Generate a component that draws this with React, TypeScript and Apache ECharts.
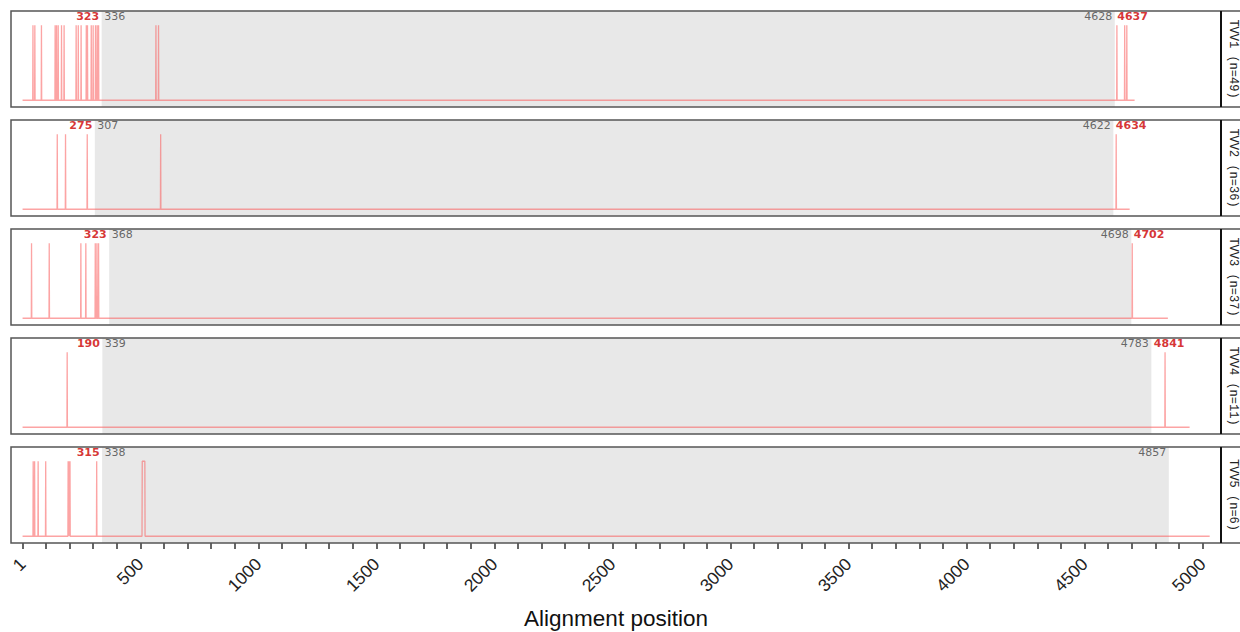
import React, { useEffect, useRef } from "react";
import * as echarts from "echarts";

// ---- data ----
const groups = ["TVV1 (n=49)", "TVV2 (n=36)", "TVV3 (n=37)", "TVV4 (n=11)", "TVV5 (n=6)"];
// variable sites: [start, end] runs of positions with value 1
const sites1 = [[45, 45], [53, 53], [81, 81], [139, 139], [145, 145], [152, 152], [166, 166], [177, 177], [228, 228], [237, 237], [249, 249], [271, 271], [276, 276], [292, 292], [300, 300], [310, 310], [317, 317], [323, 323], [566, 566], [577, 577], [4637, 4637], [4670, 4670], [4679, 4679]];
const sites2 = [[148, 148], [183, 183], [275, 275], [586, 586], [4634, 4634]];
const sites3 = [[39, 39], [114, 114], [248, 248], [269, 269], [309, 309], [316, 316], [323, 323], [4702, 4702]];
const sites4 = [[190, 190], [4841, 4841]];
const sites5 = [[46, 46], [52, 52], [67, 67], [99, 99], [194, 194], [198, 198], [202, 202], [315, 315], [508, 519]];
const sites = [sites1, sites2, sites3, sites4, sites5];
const alignStart = [1, 1, 1, 1, 1];
const alignEnd = [4712, 4691, 4853, 4945, 5030];
// conserved region (grey) and flanking variable sites (red)
const conservedStart = [336, 307, 368, 339, 338];
const conservedEnd = [4628, 4622, 4698, 4783, 4857];
const leftVariable = ["323", "275", "323", "190", "315"];
const rightVariable = ["4637", "4634", "4702", "4841", ""];
const tickValues = [1, 100, 200, 300, 400, 500, 600, 700, 800, 900, 1000, 1100, 1200, 1300, 1400, 1500, 1600, 1700, 1800, 1900, 2000, 2100, 2200, 2300, 2400, 2500, 2600, 2700, 2800, 2900, 3000, 3100, 3200, 3300, 3400, 3500, 3600, 3700, 3800, 3900, 4000, 4100, 4200, 4300, 4400, 4500, 4600, 4700, 4800, 4900, 5000];
const labelValues = [1, 500, 1000, 1500, 2000, 2500, 3000, 3500, 4000, 4500, 5000];

const X_MIN = -48;
const X_MAX = 5078;
const Y_MIN = -0.09;
const Y_MAX = 1.19;
const LABEL_Y = 1.12;

const PANEL_LEFT = 11;
const PANEL_RIGHT = 1221;
const PANEL_H = 96;
const panelTop = (i: number) => 11 + i * 109;

function buildLine(i: number) {
  const pts: number[][] = [[alignStart[i], 0]];
  for (const [s, e] of sites[i]) {
    pts.push([s - 1, 0], [s, 1], [e, 1], [e + 1, 0]);
  }
  pts.push([alignEnd[i], 0]);
  return pts;
}

export default function App() {
  const ref = useRef<HTMLDivElement>(null);
  useEffect(() => {
    if (!ref.current) return;
    const chart = echarts.init(ref.current, undefined, { renderer: "svg" });
    const n = groups.length;
    const grids: any[] = [];
    const xAxes: any[] = [];
    const yAxes: any[] = [];
    const series: any[] = [];
    const graphics: any[] = [];
    for (let i = 0; i < n; i++) {
      const last = i === n - 1;
      grids.push({
        left: PANEL_LEFT,
        width: PANEL_RIGHT - PANEL_LEFT,
        top: panelTop(i),
        height: PANEL_H,
        show: false,
        containLabel: false,
        outerBoundsMode: "none",
      });
      xAxes.push({
        type: "value",
        gridIndex: i,
        min: X_MIN,
        max: X_MAX,
        show: true,
        position: "bottom",
        splitLine: { show: false },
        axisLine: { show: false, onZero: false },
        axisTick: last
          ? { show: true, inside: false, customValues: tickValues, length: 6, lineStyle: { color: "#333", width: 1.5 } }
          : { show: false },
        axisLabel: last
          ? {
              show: true,
              customValues: labelValues,
              formatter: (v: number) => String(v),
              rotate: 45,
              margin: 18,
              fontSize: 17.5,
              color: "#222",
              fontFamily: "Liberation Sans, Arial, sans-serif",
            }
          : { show: false },
        name: last ? "Alignment position" : "",
        nameLocation: "middle",
        nameGap: 64,
        nameMoveOverlap: false,
        nameTextStyle: { fontSize: 22.5, color: "#111", fontFamily: "Liberation Sans, Arial, sans-serif" },
      });
      yAxes.push({
        type: "value",
        gridIndex: i,
        min: Y_MIN,
        max: Y_MAX,
        show: false,
        splitLine: { show: false },
      });
      // grey conserved region
      series.push({
        type: "line",
        xAxisIndex: i,
        yAxisIndex: i,
        data: [],
        z: 1,
        markArea: {
          silent: true,
          itemStyle: { color: "#e8e8e8" },
          data: [[{ xAxis: conservedStart[i] }, { xAxis: conservedEnd[i] }]],
        },
      });
      // variability line
      series.push({
        type: "line",
        xAxisIndex: i,
        yAxisIndex: i,
        data: buildLine(i),
        showSymbol: false,
        symbol: "none",
        z: 3,
        lineStyle: { color: "rgba(250,90,90,0.55)", width: 1.3 },
      });
      // labels
      const baseLabel = {
        show: true,
        position: "inside",
        verticalAlign: "middle",
        fontSize: 11,
        fontFamily: "DejaVu Sans, sans-serif",
      };
      const labelData: any[] = [
        {
          value: [conservedStart[i], LABEL_Y],
          label: { ...baseLabel, formatter: String(conservedStart[i]), align: "left", offset: [2.5, 0], color: "#444" },
        },
        {
          value: [conservedStart[i], LABEL_Y],
          label: { ...baseLabel, formatter: leftVariable[i], align: "right", offset: [-2.5, 0], color: "#cc0000", fontWeight: "bold" },
        },
        {
          value: [conservedEnd[i], LABEL_Y],
          label: { ...baseLabel, formatter: String(conservedEnd[i]), align: "right", offset: [-2.5, 0], color: "#444" },
        },
      ];
      if (rightVariable[i]) {
        labelData.push({
          value: [conservedEnd[i], LABEL_Y],
          label: { ...baseLabel, formatter: rightVariable[i], align: "left", offset: [2.5, 0], color: "#cc0000", fontWeight: "bold" },
        });
      }
      series.push({
        type: "scatter",
        xAxisIndex: i,
        yAxisIndex: i,
        symbolSize: 1,
        itemStyle: { color: "rgba(0,0,0,0)" },
        z: 5,
        silent: true,
        data: labelData,
      });
      // panel + strip borders
      const top = panelTop(i);
      graphics.push({
        type: "rect",
        z: 100,
        silent: true,
        shape: { x: PANEL_LEFT, y: top, width: 1250 - PANEL_LEFT, height: PANEL_H },
        style: { fill: "none", stroke: "#555", lineWidth: 1.5 },
      });
      graphics.push({
        type: "line",
        z: 101,
        silent: true,
        shape: { x1: PANEL_RIGHT, y1: top, x2: PANEL_RIGHT, y2: top + PANEL_H },
        style: { stroke: "#111", lineWidth: 2 },
      });
      graphics.push({
        type: "text",
        z: 101,
        silent: true,
        x: 1233,
        y: top + PANEL_H / 2,
        rotation: -Math.PI / 2,
        style: {
          text: groups[i],
          fontSize: 12,
          fontFamily: "Liberation Mono, monospace",
          fill: "#222",
          align: "center",
          verticalAlign: "middle",
        },
      });
    }
    chart.setOption({
      animation: false,
      backgroundColor: "#fff",
      grid: grids,
      xAxis: xAxes,
      yAxis: yAxes,
      series,
      graphic: graphics,
    });
    return () => chart.dispose();
  }, []);
  return (
    <div
      ref={ref}
      style={{ position: "fixed", left: 0, top: 0, width: 1240, height: 632 }}
    />
  );
}
